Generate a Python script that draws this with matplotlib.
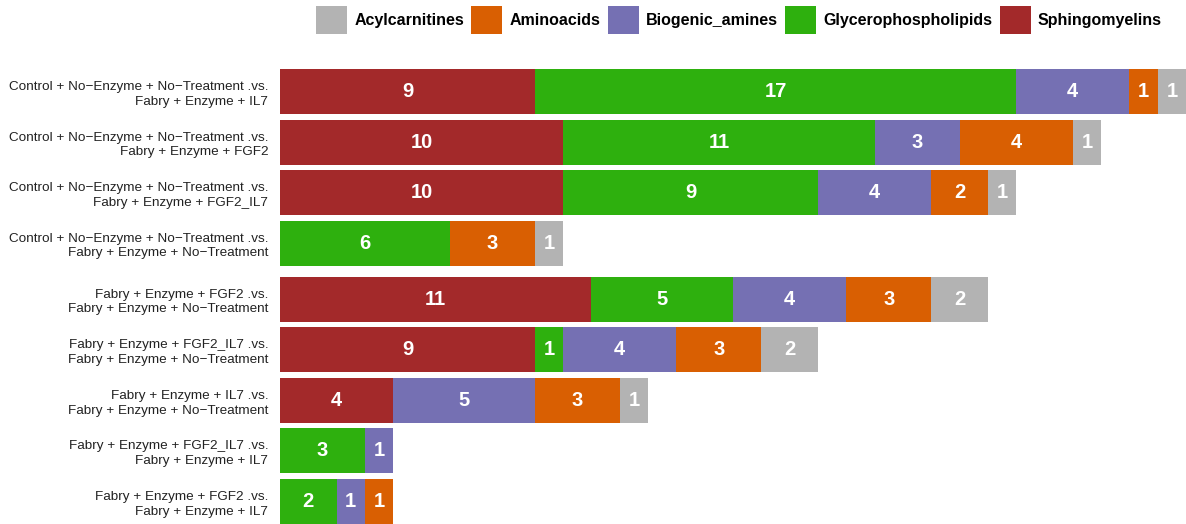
import numpy as np
import matplotlib
matplotlib.use('Agg')
import matplotlib.pyplot as plt
from matplotlib.patches import Patch

plt.rcParams['font.family'] = ['Liberation Sans', 'DejaVu Sans']

comparisons = [
    'Control + No\u2212Enzyme + No\u2212Treatment .vs.\nFabry + Enzyme + IL7',
    'Control + No\u2212Enzyme + No\u2212Treatment .vs.\nFabry + Enzyme + FGF2',
    'Control + No\u2212Enzyme + No\u2212Treatment .vs.\nFabry + Enzyme + FGF2_IL7',
    'Control + No\u2212Enzyme + No\u2212Treatment .vs.\nFabry + Enzyme + No\u2212Treatment',
    'Fabry + Enzyme + FGF2 .vs.\nFabry + Enzyme + No\u2212Treatment',
    'Fabry + Enzyme + FGF2_IL7 .vs.\nFabry + Enzyme + No\u2212Treatment',
    'Fabry + Enzyme + IL7 .vs.\nFabry + Enzyme + No\u2212Treatment',
    'Fabry + Enzyme + FGF2_IL7 .vs.\nFabry + Enzyme + IL7',
    'Fabry + Enzyme + FGF2 .vs.\nFabry + Enzyme + IL7',
]

# counts per metabolite class, in stacking order (left to right)
sphingomyelins       = [9, 10, 10, 0, 11, 9, 4, 0, 0]
glycerophospholipids = [17, 11, 9, 6, 5, 1, 0, 3, 2]
biogenic_amines      = [4, 3, 4, 0, 4, 4, 5, 1, 1]
aminoacids           = [1, 4, 2, 3, 3, 3, 3, 0, 1]
acylcarnitines       = [1, 1, 1, 1, 2, 2, 1, 0, 0]

classes = ['Sphingomyelins', 'Glycerophospholipids', 'Biogenic_amines',
           'Aminoacids', 'Acylcarnitines']
series = [sphingomyelins, glycerophospholipids, biogenic_amines,
          aminoacids, acylcarnitines]
colors = {
    'Acylcarnitines': '#b3b3b3',
    'Aminoacids': '#d95f02',
    'Biogenic_amines': '#7570b3',
    'Glycerophospholipids': '#2eb00e',
    'Sphingomyelins': '#a3292a',
}

# row positions, small extra gap after the control comparisons
ypos = np.arange(len(comparisons), dtype=float)
ypos[4:] += 0.11
bar_h = 0.89

fig = plt.figure(figsize=(11.86, 5.24), dpi=100)
ax = fig.add_axes([280 / 1186, 0, 1 - 280 / 1186, (524 - 69) / 524])

left = np.zeros(len(comparisons))
for name, vals in zip(classes, series):
    vals = np.array(vals, dtype=float)
    ax.barh(ypos, vals, left=left, height=bar_h, color=colors[name],
            linewidth=0)
    for y, l, v in zip(ypos, left, vals):
        if v > 0:
            ax.text(l + v / 2, y, str(int(v)), ha='center', va='center',
                    color='white', fontsize=14.5, fontweight='bold')
    left += vals

ax.set_xlim(0, 32)
ax.set_ylim(ypos[-1] + bar_h / 2, ypos[0] - bar_h / 2)
ax.set_yticks(ypos)
ax.set_yticklabels(comparisons, fontsize=9.7)
for lab in ax.get_yticklabels():
    lab.set_linespacing(1.3)
ax.tick_params(axis='y', length=0, pad=8.5, colors='#222222')
ax.set_xticks([])
for s in ax.spines.values():
    s.set_visible(False)

legend_order = ['Acylcarnitines', 'Aminoacids', 'Biogenic_amines',
                'Glycerophospholipids', 'Sphingomyelins']
handles = [Patch(facecolor=colors[c], label=c) for c in legend_order]
fig.legend(handles=handles, loc='center', bbox_to_anchor=(0.623, 0.962),
           ncol=5, frameon=False, handlelength=1.95, handleheight=2.3,
           handletextpad=0.45, columnspacing=0.45,
           prop={'weight': 'bold', 'size': 11.5})

fig.savefig('out.png', dpi=100)
